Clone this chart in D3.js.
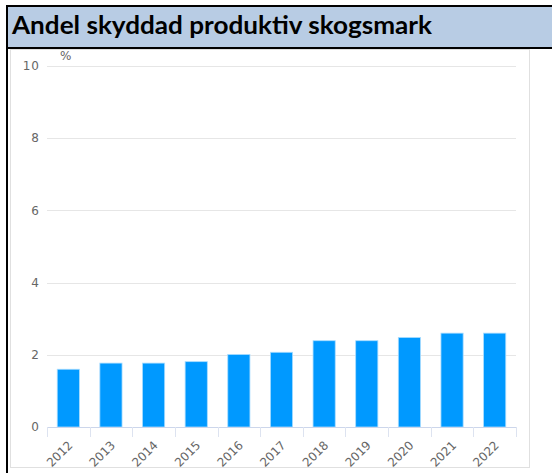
<!DOCTYPE html>
<html>
<head>
<meta charset="utf-8">
<script src="https://cdn.jsdelivr.net/npm/d3@7"></script>
<style>
  body { margin: 0; background: #fff; }
  svg { display: block; }
  .tick-label { font-family: "DejaVu Sans", sans-serif; font-size: 12px; fill: #666; }
</style>
</head>
<body>
<div class="chart-1"></div>
<script>
// data
const years = ["2012", "2013", "2014", "2015", "2016", "2017", "2018", "2019", "2020", "2021", "2022"];
const shares = [1.6, 1.77, 1.77, 1.81, 2.01, 2.07, 2.39, 2.39, 2.48, 2.6, 2.6];
const yTicks = [0, 2, 4, 6, 8, 10];
const title = "Andel skyddad produktiv skogsmark";

const svg = d3.select(".chart-1")
  .append("svg")
  .attr("width", 552)
  .attr("height", 473);

// header bar
svg.append("rect")
  .attr("x", 7).attr("y", 6)
  .attr("width", 552).attr("height", 42)
  .attr("fill", "#b8cce4")
  .attr("stroke", "#000")
  .attr("stroke-width", 2);

svg.append("text")
  .text(title)
  .attr("x", 12)
  .attr("y", 34)
  .attr("font-family", "Lato, sans-serif")
  .attr("font-weight", "bold")
  .attr("font-size", 24)
  .attr("textLength", 420)
  .attr("lengthAdjust", "spacingAndGlyphs")
  .attr("fill", "#000");

// chart panel
svg.append("rect")
  .attr("x", 10.5).attr("y", 49.5)
  .attr("width", 519).attr("height", 418)
  .attr("fill", "#fff")
  .attr("stroke", "#e0e0e0");

// left black border
svg.append("line")
  .attr("x1", 7).attr("x2", 7)
  .attr("y1", 5).attr("y2", 473)
  .attr("stroke", "#000")
  .attr("stroke-width", 2);

const x = d3.scaleBand()
  .domain(years)
  .range([47, 516])
  .paddingInner(0.48)
  .paddingOuter(0.24);

const y = d3.scaleLinear()
  .domain([0, 10])
  .range([427, 66]);

// gridlines
svg.append("g")
  .selectAll("line")
  .data(yTicks.filter(d => d > 0))
  .join("line")
  .attr("x1", 47).attr("x2", 516)
  .attr("y1", d => Math.round(y(d)) + 0.5)
  .attr("y2", d => Math.round(y(d)) + 0.5)
  .attr("stroke", "#e6e6e6");

svg.append("g")
  .selectAll("text")
  .data(yTicks)
  .join("text")
  .attr("class", "tick-label")
  .attr("x", 40)
  .attr("y", d => y(d))
  .attr("dy", "0.35em")
  .attr("text-anchor", "end")
  .attr("letter-spacing", 1)
  .text(d => d);

svg.append("text")
  .attr("class", "tick-label")
  .attr("x", 60)
  .attr("y", 60)
  .text("%");

// bars
svg.append("g")
  .selectAll("rect")
  .data(years)
  .join("rect")
  .attr("x", d => x(d))
  .attr("y", (d, i) => y(shares[i]))
  .attr("width", x.bandwidth())
  .attr("height", (d, i) => y(0) - y(shares[i]))
  .attr("fill", "#0099ff")
  .attr("stroke", "#a8dcff")
  .attr("stroke-width", 0.8);

// x axis line and category ticks
svg.append("line")
  .attr("x1", 47).attr("x2", 516)
  .attr("y1", 427.5).attr("y2", 427.5)
  .attr("stroke", "#ccd6eb");

const step = x.step();
svg.append("g")
  .selectAll("line")
  .data(d3.range(years.length + 1))
  .join("line")
  .attr("x1", k => Math.round(47 + k * step) + 0.5)
  .attr("x2", k => Math.round(47 + k * step) + 0.5)
  .attr("y1", 427).attr("y2", 437)
  .attr("stroke", "#dde3f0");

svg.append("g")
  .selectAll("text")
  .data(years)
  .join("text")
  .attr("class", "tick-label")
  .attr("text-anchor", "end")
  .attr("transform", d => `translate(${x(d) + x.bandwidth() / 2 + 5},${446}) rotate(-45)`)
  .text(d => d);
</script>
</body>
</html>
